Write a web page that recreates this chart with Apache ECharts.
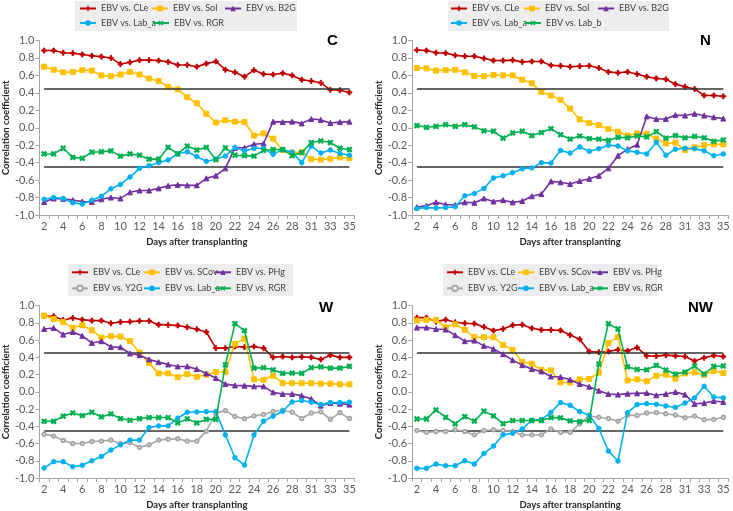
<!DOCTYPE html>
<html><head><meta charset="utf-8">
<script src="https://cdn.jsdelivr.net/npm/echarts@6/dist/echarts.min.js"></script>
<style>html,body{margin:0;padding:0;background:#fff}#c{width:733px;height:511px}</style>
</head><body><div id="c"></div><script>
// ---- Data ----
const days = [2,3,4,5,6,7,8,9,10,11,12,13,14,15,16,17,18,19,20,21,22,23,24,25,26,27,28,29,31,32,33,34,35];
const criticalR = 0.449;

// Panel C
const cCLe = [0.885,0.885,0.86,0.855,0.84,0.825,0.815,0.80,0.73,0.75,0.775,0.775,0.77,0.755,0.72,0.72,0.70,0.735,0.76,0.665,0.635,0.585,0.66,0.615,0.61,0.625,0.60,0.55,0.535,0.515,0.435,0.43,0.405];
const cSol = [0.70,0.665,0.635,0.64,0.66,0.655,0.60,0.59,0.61,0.64,0.61,0.565,0.535,0.47,0.44,0.35,0.28,0.16,0.06,0.085,0.07,0.065,-0.09,-0.065,-0.125,-0.255,-0.285,-0.28,-0.36,-0.365,-0.355,-0.34,-0.35];
const cB2G = [-0.85,-0.81,-0.815,-0.83,-0.845,-0.85,-0.82,-0.80,-0.81,-0.74,-0.72,-0.72,-0.695,-0.665,-0.655,-0.66,-0.66,-0.58,-0.55,-0.465,-0.23,-0.23,-0.19,-0.18,0.07,0.065,0.07,0.05,0.10,0.09,0.055,0.065,0.07];
const cLabA = [-0.82,-0.80,-0.81,-0.86,-0.875,-0.83,-0.785,-0.70,-0.65,-0.565,-0.465,-0.435,-0.40,-0.37,-0.30,-0.275,-0.33,-0.385,-0.36,-0.325,-0.225,-0.265,-0.235,-0.235,-0.305,-0.25,-0.28,-0.40,-0.21,-0.29,-0.255,-0.295,-0.315];
const cRGR = [-0.30,-0.30,-0.235,-0.34,-0.35,-0.28,-0.275,-0.265,-0.325,-0.30,-0.315,-0.36,-0.36,-0.225,-0.30,-0.21,-0.255,-0.225,-0.365,-0.23,-0.315,-0.32,-0.325,-0.26,-0.25,-0.25,-0.32,-0.285,-0.17,-0.15,-0.17,-0.235,-0.25];

// Panel N
const nCLe = [0.89,0.885,0.86,0.855,0.83,0.82,0.82,0.795,0.77,0.77,0.775,0.755,0.76,0.76,0.715,0.71,0.70,0.705,0.71,0.685,0.64,0.63,0.64,0.615,0.585,0.565,0.555,0.50,0.47,0.445,0.37,0.37,0.36];
const nSol = [0.685,0.68,0.655,0.66,0.665,0.635,0.595,0.59,0.605,0.60,0.60,0.55,0.51,0.41,0.37,0.32,0.22,0.095,0.055,0.03,-0.015,-0.045,-0.09,-0.065,-0.07,-0.125,-0.18,-0.17,-0.255,-0.225,-0.20,-0.19,-0.19];
const nB2G = [-0.91,-0.895,-0.855,-0.88,-0.885,-0.855,-0.86,-0.81,-0.845,-0.83,-0.855,-0.84,-0.785,-0.76,-0.615,-0.625,-0.645,-0.61,-0.585,-0.55,-0.465,-0.32,-0.245,-0.195,0.13,0.10,0.10,0.145,0.14,0.16,0.14,0.12,0.105];
const nLabA = [-0.925,-0.915,-0.92,-0.915,-0.905,-0.78,-0.755,-0.695,-0.575,-0.55,-0.515,-0.47,-0.46,-0.40,-0.405,-0.26,-0.29,-0.22,-0.27,-0.24,-0.20,-0.21,-0.265,-0.28,-0.30,-0.165,-0.315,-0.245,-0.235,-0.24,-0.265,-0.32,-0.30];
const nLabB = [0.025,0.005,0.015,0.035,0.015,0.035,0.01,-0.035,-0.04,-0.12,-0.06,-0.04,-0.09,-0.055,-0.01,-0.08,-0.13,-0.095,-0.125,-0.13,-0.145,-0.11,-0.115,-0.095,-0.105,-0.045,-0.12,-0.09,-0.115,-0.10,-0.115,-0.155,-0.14];

// Panel W
const wCLe = [0.88,0.877,0.835,0.857,0.838,0.827,0.827,0.796,0.811,0.815,0.823,0.823,0.78,0.777,0.77,0.75,0.727,0.695,0.507,0.507,0.526,0.519,0.526,0.507,0.40,0.41,0.40,0.407,0.40,0.376,0.426,0.40,0.40];
const wSCov = [0.885,0.846,0.81,0.745,0.773,0.715,0.63,0.646,0.642,0.59,0.457,0.333,0.214,0.214,0.171,0.206,0.175,0.199,0.23,0.233,0.557,0.618,0.145,0.141,0.187,0.10,0.10,0.10,0.10,0.095,0.095,0.087,0.087];
const wPHg = [0.73,0.742,0.665,0.696,0.65,0.568,0.588,0.522,0.518,0.445,0.426,0.376,0.345,0.318,0.295,0.295,0.264,0.214,0.16,0.09,0.075,0.072,0.064,0.064,-0.006,-0.025,-0.025,-0.044,-0.082,-0.16,-0.13,-0.137,-0.148];
const wY2G = [-0.492,-0.514,-0.564,-0.60,-0.60,-0.576,-0.572,-0.56,-0.603,-0.59,-0.645,-0.615,-0.56,-0.549,-0.545,-0.572,-0.572,-0.456,-0.248,-0.218,-0.287,-0.313,-0.279,-0.263,-0.229,-0.214,-0.237,-0.31,-0.245,-0.233,-0.318,-0.241,-0.31];
const wLabA = [-0.884,-0.81,-0.81,-0.869,-0.853,-0.80,-0.75,-0.676,-0.615,-0.56,-0.56,-0.414,-0.395,-0.395,-0.306,-0.237,-0.233,-0.229,-0.229,-0.50,-0.765,-0.85,-0.50,-0.34,-0.283,-0.225,-0.117,-0.10,-0.12,-0.148,-0.125,-0.125,-0.12];
const wRGR = [-0.342,-0.342,-0.283,-0.245,-0.276,-0.237,-0.291,-0.256,-0.31,-0.33,-0.31,-0.298,-0.298,-0.298,-0.36,-0.314,-0.36,-0.32,-0.32,0.314,0.792,0.711,0.275,0.28,0.256,0.214,0.218,0.214,0.28,0.29,0.275,0.275,0.295];

// Panel NW
const nwCLe = [0.861,0.861,0.815,0.838,0.807,0.796,0.792,0.754,0.711,0.73,0.773,0.78,0.738,0.719,0.719,0.713,0.659,0.61,0.468,0.46,0.468,0.49,0.476,0.514,0.418,0.415,0.426,0.418,0.41,0.357,0.395,0.422,0.41];
const nwSCov = [0.827,0.834,0.834,0.75,0.784,0.719,0.634,0.634,0.634,0.545,0.487,0.349,0.326,0.256,0.249,0.11,0.108,0.145,0.15,0.222,0.565,0.638,0.133,0.145,0.122,0.187,0.20,0.153,0.214,0.226,0.199,0.241,0.218];
const nwPHg = [0.746,0.746,0.73,0.723,0.657,0.588,0.595,0.534,0.499,0.437,0.368,0.31,0.264,0.237,0.179,0.173,0.141,0.091,0.06,0.014,-0.025,-0.032,-0.021,-0.017,-0.013,-0.04,-0.025,-0.002,-0.032,-0.14,-0.13,-0.106,-0.117];
const nwY2G = [-0.45,-0.47,-0.46,-0.46,-0.44,-0.46,-0.50,-0.45,-0.44,-0.45,-0.46,-0.50,-0.50,-0.50,-0.43,-0.47,-0.47,-0.37,-0.28,-0.295,-0.31,-0.34,-0.27,-0.275,-0.245,-0.24,-0.255,-0.27,-0.30,-0.28,-0.325,-0.32,-0.295];
const nwLabA = [-0.888,-0.888,-0.838,-0.857,-0.857,-0.80,-0.838,-0.715,-0.63,-0.499,-0.48,-0.43,-0.33,-0.322,-0.237,-0.125,-0.156,-0.229,-0.272,-0.425,-0.687,-0.803,-0.24,-0.148,-0.137,-0.145,-0.164,-0.18,-0.13,-0.07,0.064,-0.06,-0.07];
const nwRGR = [-0.315,-0.315,-0.21,-0.295,-0.372,-0.287,-0.34,-0.225,-0.279,-0.368,-0.333,-0.333,-0.333,-0.333,-0.298,-0.302,-0.337,-0.345,-0.333,0.322,0.792,0.73,0.29,0.26,0.256,0.307,0.253,0.206,0.23,0.30,0.206,0.295,0.30];

// ---- Styles / layout ----
const FONT = "Lato, 'Liberation Sans', Arial, sans-serif";
const PLUS = 'path://M3,0H5V3H8V5H5V8H3V5H0V3H3Z';
const STY = {
  red:    {color:'#C00000', symbol:PLUS, size:5, rot:0},
  yellow: {color:'#FFC000', symbol:'rect', size:5, rot:0},
  purple: {color:'#7030A0', symbol:'triangle', size:5, rot:0},
  blue:   {color:'#00B0F0', symbol:'circle', size:4.5, rot:0},
  green:  {color:'#00B050', symbol:PLUS, size:5.5, rot:45},
  gray:   {color:'#A6A6A6', symbol:'emptyCircle', size:3.5, rot:0}
};

const panels = [
  {title:'C', titlePos:[327,33], grid:{left:37.5, top:40.5, width:316.7, height:174.5},
   box:[75,1,222,30], rows:[8.5,23],
   items:[
     ['EBV vs. CLe', cCLe, 'red', 79, 0],
     ['EBV vs. Sol', cSol, 'yellow', 151, 0],
     ['EBV vs. B2G', cB2G, 'purple', 224, 0],
     ['EBV vs. Lab_a', cLabA, 'blue', 79, 1],
     ['EBV vs. RGR', cRGR, 'green', 152, 1]
   ]},
  {title:'N', titlePos:[700,33], grid:{left:412.1, top:40.5, width:316, height:174.5},
   box:[448,1,221,30], rows:[8.5,23],
   items:[
     ['EBV vs. CLe', nCLe, 'red', 450, 0],
     ['EBV vs. Sol', nSol, 'yellow', 523, 0],
     ['EBV vs. B2G', nB2G, 'purple', 597, 0],
     ['EBV vs. Lab_a', nLabA, 'blue', 450, 1],
     ['EBV vs. Lab_b', nLabB, 'green', 524, 1]
   ]},
  {title:'W', titlePos:[319,300], grid:{left:37.5, top:305.7, width:316.7, height:173},
   box:[68,264,225,32], rows:[272.3,288.3],
   items:[
     ['EBV vs. CLe', wCLe, 'red', 71, 0],
     ['EBV vs. SCov', wSCov, 'yellow', 143, 0],
     ['EBV vs. PHg', wPHg, 'purple', 214, 0],
     ['EBV vs. Y2G', wY2G, 'gray', 71, 1],
     ['EBV vs. Lab_a', wLabA, 'blue', 143, 1],
     ['EBV vs. RGR', wRGR, 'green', 214, 1]
   ]},
  {title:'NW', titlePos:[688,300], grid:{left:412.1, top:305.7, width:316, height:173},
   box:[443,264,215,32], rows:[272.3,288.3],
   items:[
     ['EBV vs. CLe', nwCLe, 'red', 446, 0],
     ['EBV vs. SCov', nwSCov, 'yellow', 517, 0],
     ['EBV vs. PHg', nwPHg, 'purple', 591, 0],
     ['EBV vs. Y2G', nwY2G, 'gray', 446, 1],
     ['EBV vs. Lab_a', nwLabA, 'blue', 517, 1],
     ['EBV vs. RGR', nwRGR, 'green', 591, 1]
   ]}
];

const grids = [], xAxes = [], yAxes = [], series = [], legends = [], titles = [], graphics = [];
const cats = days.map(String);

panels.forEach((p, pi) => {
  grids.push(Object.assign({containLabel:false}, p.grid));
  xAxes.push({
    gridIndex: pi, type:'category', data: cats, boundaryGap: true,
    axisLine:{onZero:false, lineStyle:{color:'#A6A6A6', width:1}},
    axisTick:{show:true, interval:0, length:4, lineStyle:{color:'#A6A6A6'}},
    axisLabel:{interval:1, fontSize:11, color:'#595959', margin:6, fontFamily:FONT},
    splitLine:{show:false},
    name:'Days after transplanting', nameLocation:'middle', nameGap:22,
    nameTextStyle:{fontWeight:'bold', fontSize:9.5, color:'#262626', fontFamily:FONT}
  });
  yAxes.push({
    gridIndex: pi, type:'value', min:-1, max:1, interval:0.2,
    axisLine:{show:true, lineStyle:{color:'#A6A6A6', width:1}},
    axisTick:{show:true, length:4, lineStyle:{color:'#A6A6A6'}},
    splitLine:{show:false},
    axisLabel:{formatter: v => v.toFixed(1), fontSize:11, color:'#595959', margin:5, fontFamily:FONT},
    name:'Correlation coefficient', nameLocation:'middle', nameGap:24,
    nameTextStyle:{fontWeight:'bold', fontSize:9.5, color:'#262626', fontFamily:FONT}
  });
  titles.push({text:p.title, left:p.titlePos[0], top:p.titlePos[1], padding:0,
    textStyle:{fontSize:15, fontWeight:'bold', color:'#000', fontFamily:"'Liberation Sans', Arial, sans-serif"}});
  graphics.push({type:'rect', shape:{x:p.box[0], y:p.box[1], width:p.box[2], height:p.box[3]},
    style:{fill:'#EDEDED'}, z:0, silent:true});
  p.items.forEach((it, k) => {
    const [name, data, sk, lx, row] = it;
    const s = STY[sk];
    const ser = {
      type:'line', name, data, xAxisIndex:pi, yAxisIndex:pi,
      symbol:s.symbol, symbolSize:s.size, symbolRotate:s.rot, showSymbol:true,
      lineStyle:{color:s.color, width:1.6}, itemStyle:{color:s.color, borderColor:s.color},
      emphasis:{disabled:true}, animation:false, z:3 + k
    };
    if (k === 0) {
      ser.markLine = {
        silent:true, symbol:['none','none'], label:{show:false}, animation:false,
        lineStyle:{color:'#333333', width:1.5, type:'solid'},
        data:[
          [{coord:[0, criticalR]}, {coord:[days.length-1, criticalR]}],
          [{coord:[0, -criticalR]}, {coord:[days.length-1, -criticalR]}]
        ]
      };
    }
    series.push(ser);
    legends.push({
      data:[name], left:lx, top:p.rows[row]-4.5, padding:0, itemWidth:16, itemHeight:7,
      selectedMode:false, z:5,
      textStyle:{fontSize:9, color:'#404040', fontFamily:FONT}
    });
  });
});

const chart = echarts.init(document.getElementById('c'), null, {renderer:'canvas'});
chart.setOption({
  animation:false, backgroundColor:'#ffffff',
  title: titles, grid: grids, xAxis: xAxes, yAxis: yAxes,
  legend: legends, series: series, graphic: graphics
});
</script></body></html>
